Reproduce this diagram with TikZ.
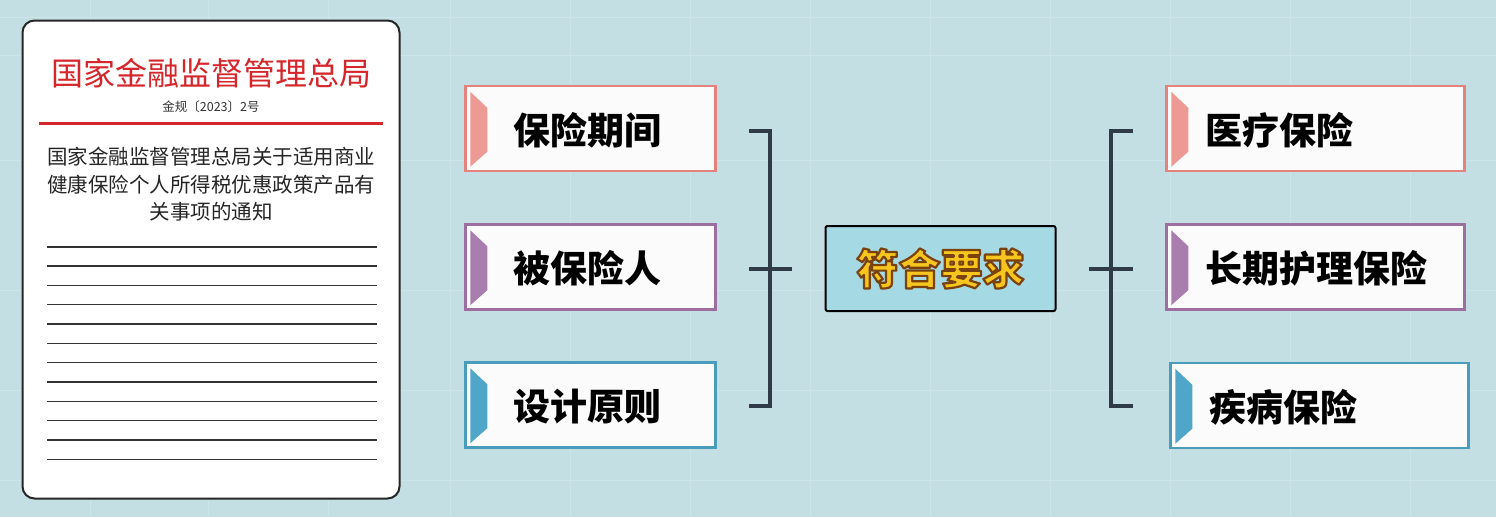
\documentclass[tikz,border=0pt]{standalone}
\usepackage{fontspec}
\setmainfont{Noto Sans CJK SC}
\usetikzlibrary{calc}
\definecolor{bg}{HTML}{C4DFE3}
\definecolor{gridc}{HTML}{CCE5E9}
\definecolor{salmon}{HTML}{E5827D}
\definecolor{salmonf}{HTML}{EE9A94}
\definecolor{purp}{HTML}{9C6FA0}
\definecolor{purpf}{HTML}{A97DAD}
\definecolor{teal}{HTML}{4A9CBD}
\definecolor{tealf}{HTML}{4FA6C8}
\definecolor{brk}{HTML}{2F3B47}
\definecolor{cfill}{HTML}{A5D9E4}
\definecolor{redt}{HTML}{D5262C}
\definecolor{yel}{HTML}{F6C51E}
\newcommand\outl[1]{{\color{yel}\special{pdf:code q 0.48 0.26 0.06 RG 2.2 w 1 j 2 Tr}#1\special{pdf:code Q}}}
\tikzset{
  itembox/.style={draw=#1, line width=2.5pt, fill=white!97!gray, minimum width=250pt, minimum height=85pt, inner sep=0pt},
  itemtext/.style={anchor=west, font=\fontsize{37}{40}\selectfont\bfseries, text=black, inner sep=0pt},
  brkline/.style={draw=brk, line width=4pt},
  docline/.style={draw=black!80, line width=1.6pt}
}
\begin{document}
\begin{tikzpicture}[x=1pt,y=-1pt]
\useasboundingbox (0,0) rectangle (1496,517);
\fill[bg] (0,0) rectangle (1496,517);
\foreach \gx in {90,208,328,450,570,690,810,930,1050,1170,1290,1410} \draw[gridc, line width=1pt] (\gx,0) -- (\gx,517);
\foreach \gy in {17,55,160,290,390,480} \draw[gridc, line width=1pt] (0,\gy) -- (1496,\gy);

% document
\node[draw=black!85, line width=2pt, fill=white, rounded corners=12pt, minimum width=377pt, minimum height=478pt, inner sep=0pt] (doc) at (211,259.5) {};
\node[text=redt, font=\fontsize{32}{34}\selectfont, inner sep=0pt] (title) at (211,73) {国家金融监督管理总局};
\node[text=black!80, font=\fontsize{12.5}{14}\selectfont, inner sep=0pt] (ref) at (211,107) {金规〔2023〕2号};
\draw[redt, line width=3pt] (39,123) -- (383,123);
\node[text=black!85, font=\fontsize{20.5}{27.5}\selectfont, align=center, inner sep=0pt] (body) at (211,184.5) {国家金融监督管理总局关于适用商业\\健康保险个人所得税优惠政策产品有\\关事项的通知};
\foreach \k in {0,...,11} \draw[docline] (47,{246.7+19.33*\k}) -- (377,{246.7+19.33*\k});

% left boxes
\node[itembox=salmon] (b1) at (590.5,128.5) {};
\node[itembox=purp] (b2) at (590.5,267) {};
\node[itembox=teal] (b3) at (590.5,405) {};
\fill[salmonf] ($(b1.north west)+(6,7)$) -- ($(b1.north west)+(23,23)$) -- ($(b1.north west)+(23,67)$) -- ($(b1.north west)+(6,82)$) -- cycle;
\fill[purpf] ($(b2.north west)+(6,7)$) -- ($(b2.north west)+(23,23)$) -- ($(b2.north west)+(23,67)$) -- ($(b2.north west)+(6,82)$) -- cycle;
\fill[tealf] ($(b3.north west)+(6,7)$) -- ($(b3.north west)+(23,23)$) -- ($(b3.north west)+(23,67)$) -- ($(b3.north west)+(6,82)$) -- cycle;
\node[itemtext] (t1) at (513,130) {保险期间};
\node[itemtext] (t2) at (513,268) {被保险人};
\node[itemtext] (t3) at (513,407) {设计原则};

% right boxes
\node[itembox=salmon, minimum width=298pt] (r1) at (1315.5,128.5) {};
\node[itembox=purp, minimum width=298pt] (r2) at (1315.5,267) {};
\node[itembox=teal, minimum width=298pt] (r3) at (1319.5,405.5) {};
\fill[salmonf] ($(r1.north west)+(6,7)$) -- ($(r1.north west)+(23,23)$) -- ($(r1.north west)+(23,67)$) -- ($(r1.north west)+(6,82)$) -- cycle;
\fill[purpf] ($(r2.north west)+(6,7)$) -- ($(r2.north west)+(23,23)$) -- ($(r2.north west)+(23,67)$) -- ($(r2.north west)+(6,82)$) -- cycle;
\fill[tealf] ($(r3.north west)+(6,7)$) -- ($(r3.north west)+(23,23)$) -- ($(r3.north west)+(23,67)$) -- ($(r3.north west)+(6,82)$) -- cycle;
\node[itemtext] (u1) at (1205,130) {医疗保险};
\node[itemtext] (u2) at (1205,268) {长期护理保险};
\node[itemtext] (u3) at (1209,407) {疾病保险};

% center
\node[draw=black, line width=2pt, fill=cfill, rounded corners=2pt, minimum width=230pt, minimum height=85pt, inner sep=0pt, font=\fontsize{42}{44}\selectfont\bfseries] (c) at (940.5,268.5) {\outl{符合要求}};

% brackets
\coordinate (lt) at (749,130.5);
\coordinate (lb) at (749,405.5);
\coordinate (lm) at (749,268.5);
\draw[brkline] (lt) -- (770,130.5) -- (770,405.5) -- (lb);
\draw[brkline] (lm) -- (792,268.5);
\coordinate (rt) at (1133,130.5);
\coordinate (rb) at (1133,405.5);
\coordinate (rm) at (1133,268.5);
\draw[brkline] (rt) -- (1111,130.5) -- (1111,405.5) -- (rb);
\draw[brkline] (1089,268.5) -- (rm);
\end{tikzpicture}
\end{document}
